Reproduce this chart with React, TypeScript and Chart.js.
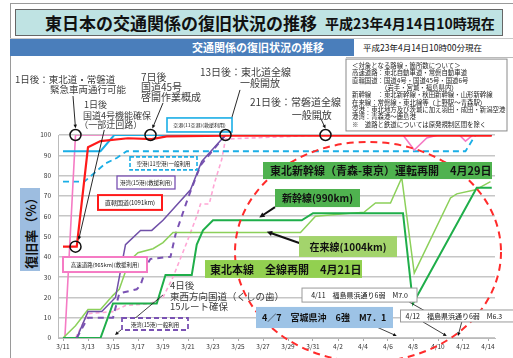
import React, { useEffect, useRef } from "react";
import { Chart, registerables } from "chart.js";

Chart.register(...registerables);

const FONT = "'Noto Sans CJK JP', 'Noto Sans', sans-serif";

// x = days since 3/11
const xTickDays = [0, 2, 4, 6, 8, 10, 12, 14, 16, 18, 20, 22, 24, 26, 28, 30, 32, 34];
const xTickLabels = ["3/11", "3/13", "3/15", "3/17", "3/19", "3/21", "3/23", "3/25", "3/27", "3/29", "3/31", "4/2", "4/4", "4/6", "4/8", "4/10", "4/12", "4/14"];
const yTickValues = [0, 10, 20, 30, 40, 50, 60, 70, 80, 90, 100];

type Pt = [number, number];

const expresswayEmergency: Pt[] = [[0.15, 0], [1, 100], [27.2, 100], [28.1, 92.6], [29.1, 98.5], [30, 100], [31.7, 100], [32.2, 97], [32.8, 100], [34.3, 100]];
const expresswayGeneral: Pt[] = [[1, 0], [2, 12], [4, 13], [5, 16], [7, 17], [8, 20], [8.8, 30], [9.9, 47], [10.7, 60], [11, 66], [11.7, 66], [12.1, 76], [12.7, 88], [13, 98], [21, 100], [34.3, 100]];
const nationalRoads: Pt[] = [[0, 45], [1.1, 45], [2, 94], [3, 97], [5.2, 98.4], [7.1, 98], [8.3, 99.3], [13, 99.7], [34.3, 99.7]];
const airportsRelief: Pt[] = [[0, 92], [3, 92], [4.1, 100], [34.3, 100]];
const airportsGeneral: Pt[] = [[0, 77], [1.7, 77], [3.4, 86], [4.3, 88.7], [5.1, 92], [32.2, 92], [33, 100], [34.3, 100]];
const portsRelief: Pt[] = [[1.1, 0], [2, 13], [3.1, 13], [4.2, 20], [5, 46], [6.2, 53], [7.1, 53], [8, 58], [10.2, 73], [11.1, 87], [13, 100], [34.3, 100]];
const portsGeneral: Pt[] = [[1.1, 0], [2, 10], [4, 10], [4.5, 22], [5.9, 24], [6.2, 26], [6.8, 37], [7, 39], [8.6, 40], [9, 51], [10, 69], [11, 85], [13, 100]];
const shinkansen: Pt[] = [[0, 0], [3, 0], [4, 17], [7.5, 17], [8.2, 31], [10.3, 31], [10.7, 46], [11.2, 53], [12, 58], [19.1, 58], [20, 61.5], [27.2, 61.5], [28, 17], [33.1, 74], [34.3, 74]];
const conventionalLines: Pt[] = [[0, 0], [1, 6], [2, 14], [3, 14], [4, 21], [4.5, 24], [5.3, 38], [6, 42], [7.2, 44], [8, 47], [8.8, 52], [19, 52], [20.2, 60], [24.1, 62], [25, 66.5], [26.2, 66.5], [27.1, 79], [28.1, 32], [31, 69], [31.5, 71], [33, 73], [34.2, 77]];

// annotations (data coordinates: day, percent)
const milestoneCircles: Pt[] = [[1, 100], [1, 45], [7, 100], [13, 100], [21, 100]];

const noteTexts: { d: number; v: number; t: string; s: number }[] = [
  { d: -3.84, v: 127.6, t: "1日後：東北道・常磐道", s: 9.5 },
  { d: -1.04, v: 122.7, t: "緊急車両通行可能", s: 9.5 },
  { d: 1.68, v: 114.8, t: "1日後", s: 9 },
  { d: 1.6, v: 109.6, t: "国道4号機能確保", s: 9 },
  { d: 1.3, v: 105.0, t: "（一部迂回路）", s: 9 },
  { d: 6.24, v: 128.6, t: "7日後", s: 10 },
  { d: 6.24, v: 123.6, t: "国道45号", s: 10 },
  { d: 6.24, v: 118.7, t: "啓開作業概成", s: 10 },
  { d: 10.96, v: 131, t: "13日後：東北道全線", s: 10 },
  { d: 14.16, v: 125.6, t: "一般開放", s: 10 },
  { d: 14.96, v: 116.3, t: "21日後：常磐道全線", s: 10 },
  { d: 18.3, v: 109.9, t: "一般開放", s: 10 },
  { d: 8.56, v: 26.1, t: "4日後", s: 9.5 },
  { d: 8.56, v: 20.7, t: "東西方向国道（くしの歯）", s: 9.5 },
  { d: 8.56, v: 15.8, t: "15ルート確保", s: 9.5 },
];

const arrows: { a: Pt; b: Pt; w: number; h: number }[] = [
  { a: [0.8, 119.2], b: [1, 103.3], w: 0.9, h: 4 },
  { a: [3.3, 102.5], b: [1.25, 48.3], w: 0.9, h: 4 },
  { a: [8, 115.8], b: [7.15, 103.2], w: 0.9, h: 4 },
  { a: [14.16, 122.2], b: [13.25, 103.2], w: 0.9, h: 4 },
  { a: [20.6, 108.4], b: [21, 103.2], w: 0.9, h: 4 },
  { a: [8, 21.2], b: [4.16, 1.5], w: 0.8, h: 4 },
  { a: [16.96, 64.5], b: [15.7, 59.3], w: 2, h: 6 },
  { a: [18.9, 46.8], b: [16.3, 52.4], w: 2, h: 6 },
  { a: [25.1, 5.4], b: [26.7, 1], w: 0.8, h: 4 },
  { a: [28.8, 7.9], b: [30.7, 1], w: 0.8, h: 4 },
  { a: [31.9, 7.9], b: [31.6, 1], w: 0.8, h: 4 },
  { a: [27.7, 17.7], b: [29.2, 12.5], w: 0.8, h: 0 },
];

type Box = { d1: number; v1: number; d2: number; v2: number; t: string; s: number; fill: string; stroke?: string; lw?: number; dash?: number[]; bold?: boolean; pad?: number };
const labelBoxes: Box[] = [
  { d1: 8.32, v1: 108.4, d2: 13.52, v2: 101.5, t: "空港(11空港)(救援利用)", s: 5, fill: "#fff", stroke: "#1aaee6", lw: 1.6 },
  { d1: 5.36, v1: 89.2, d2: 10.72, v2: 82.8, t: "空港(11空港)一般利用", s: 5.5, fill: "#fff", stroke: "#1aaee6", lw: 1.6, dash: [4, 2] },
  { d1: 4.32, v1: 79.8, d2: 8.96, v2: 73.4, t: "港湾(15港)(救援利用)", s: 5.5, fill: "#fff", stroke: "#7a52b3", lw: 1.3 },
  { d1: 2.8, v1: 70.4, d2: 7.92, v2: 63.1, t: "直轄国道(1091km)", s: 6, fill: "#fff", stroke: "#ff1a1a", lw: 2 },
  { d1: 0, v1: 39.9, d2: 6.72, v2: 32.5, t: "高速道路(965km)(救援利用)", s: 5.5, fill: "#fff", stroke: "#f57bc4", lw: 2 },
  { d1: 4.72, v1: 9.85, d2: 10, v2: 3.94, t: "港湾(15港)一般利用", s: 5.5, fill: "#fff", stroke: "#7a52b3", lw: 1.8, dash: [5, 3] },
  { d1: 16, v1: 86.7, d2: 34.32, v2: 78.3, t: "東北新幹線（青森-東京）運転再開　4月29日", s: 11, fill: "#4fb24f", bold: true, pad: 7 },
  { d1: 16.96, v1: 73.4, d2: 23.76, v2: 64.5, t: "新幹線(990km)", s: 10, fill: "#4fb24f", bold: true },
  { d1: 18.88, v1: 50.2, d2: 26.72, v2: 39.9, t: "在来線(1004km)", s: 10, fill: "#a3d46c", bold: true },
  { d1: 11.36, v1: 38.4, d2: 23.92, v2: 29.6, t: "東北本線　全線再開　4月21日", s: 11, fill: "#92d050", bold: true, pad: 5 },
  { d1: 19.12, v1: 24.6, d2: 28.32, v2: 17.7, t: "4/11　福島県浜通り6弱　M7.0", s: 7, fill: "#fff", stroke: "#999", lw: 1 },
  { d1: 15.44, v1: 15.3, d2: 26.4, v2: 4.9, t: "4／7　宮城県沖　6強　M7．1", s: 9, fill: "#9dc3e6", bold: true, pad: 6 },
  { d1: 27.0, v1: 13.8, d2: 36.2, v2: 7.9, t: "4/12　福島県浜通り6弱　M6.3", s: 7, fill: "#fff", stroke: "#999", lw: 1, pad: 5 },
];

const noteBox = { d1: 22.64, v1: 137.4, d2: 35.52, v2: 102 };
const noteLines: { t: string; indent: number }[] = [
  { t: "＜対象となる路線・箇所数について＞", indent: 0 },
  { t: "高速道路：東北自動車道・常磐自動車道", indent: 0 },
  { t: "直轄国道：国道4号・国道45号・国道6号", indent: 0 },
  { t: "（岩手・宮城・福島県内）", indent: 29 },
  { t: "新幹線　：東北新幹線・秋田新幹線・山形新幹線", indent: 0 },
  { t: "在来線：常磐線・東北線等（上野駅～青森駅）", indent: 0 },
  { t: "空港：東北地方及び茨城に加え羽田・成田・新潟空港", indent: 0 },
  { t: "港湾：青森港～鹿島港", indent: 0 },
  { t: "※　道路と鉄道については原発規制区間を除く", indent: 0 },
];

// red dashed focus ellipse: centre day, centre %, radius in days, radius in %
const focusEllipse = [24.4, 42.4, 10.64, 54.2];

function drawArrow(ctx: CanvasRenderingContext2D, x1: number, y1: number, x2: number, y2: number, w: number, h: number) {
  const ang = Math.atan2(y2 - y1, x2 - x1);
  ctx.strokeStyle = "#111";
  ctx.fillStyle = "#111";
  ctx.lineWidth = w;
  ctx.beginPath();
  ctx.moveTo(x1, y1);
  ctx.lineTo(x2 - Math.cos(ang) * h * 0.7, y2 - Math.sin(ang) * h * 0.7);
  ctx.stroke();
  if (h > 0) {
    ctx.beginPath();
    ctx.moveTo(x2, y2);
    ctx.lineTo(x2 - h * Math.cos(ang - 0.45), y2 - h * Math.sin(ang - 0.45));
    ctx.lineTo(x2 - h * Math.cos(ang + 0.45), y2 - h * Math.sin(ang + 0.45));
    ctx.closePath();
    ctx.fill();
  }
}

const notesPlugin = {
  id: "notes",
  afterDatasetsDraw(chart: any) {
    const ctx: CanvasRenderingContext2D = chart.ctx;
    const xs = chart.scales.x;
    const ys = chart.scales.y;
    const X = (d: number) => xs.getPixelForValue(d);
    const Y = (v: number) => ys.getPixelForValue(v);
    ctx.save();

    const [cd, cv, rd, rv] = focusEllipse;
    ctx.beginPath();
    ctx.setLineDash([7, 5]);
    ctx.strokeStyle = "#ff2b2b";
    ctx.lineWidth = 2;
    ctx.ellipse(X(cd), Y(cv), X(cd + rd) - X(cd), Y(cv) - Y(cv + rv), 0, 0, Math.PI * 2);
    ctx.stroke();
    ctx.setLineDash([]);

    arrows.forEach((a) => drawArrow(ctx, X(a.a[0]), Y(a.a[1]), X(a.b[0]), Y(a.b[1]), a.w, a.h));

    labelBoxes.forEach((b) => {
      const x1 = X(b.d1), y1 = Y(b.v1), x2 = X(b.d2), y2 = Y(b.v2);
      ctx.fillStyle = b.fill;
      ctx.fillRect(x1, y1, x2 - x1, y2 - y1);
      if (b.stroke) {
        ctx.setLineDash(b.dash || []);
        ctx.strokeStyle = b.stroke;
        ctx.lineWidth = b.lw || 1;
        ctx.strokeRect(x1, y1, x2 - x1, y2 - y1);
        ctx.setLineDash([]);
      }
      ctx.font = `${b.bold ? "bold " : ""}${b.s}px ${FONT}`;
      ctx.fillStyle = "#111";
      ctx.textBaseline = "middle";
      if (b.pad !== undefined) {
        ctx.textAlign = "left";
        ctx.fillText(b.t, x1 + b.pad, (y1 + y2) / 2 + 0.5);
      } else {
        ctx.textAlign = "center";
        ctx.fillText(b.t, (x1 + x2) / 2, (y1 + y2) / 2 + 0.5);
      }
    });

    {
      const x1 = X(noteBox.d1), y1 = Y(noteBox.v1), x2 = X(noteBox.d2), y2 = Y(noteBox.v2);
      ctx.fillStyle = "#fff";
      ctx.fillRect(x1, y1, x2 - x1, y2 - y1);
      ctx.strokeStyle = "#8a8a8a";
      ctx.lineWidth = 1;
      ctx.strokeRect(x1, y1, x2 - x1, y2 - y1);
      ctx.font = `6.4px ${FONT}`;
      ctx.fillStyle = "#222";
      ctx.textAlign = "left";
      ctx.textBaseline = "middle";
      noteLines.forEach((l, i) => ctx.fillText(l.t, x1 + 6 + l.indent, y1 + 6.5 + i * 7.35));
    }

    ctx.strokeStyle = "#111";
    ctx.lineWidth = 1.5;
    milestoneCircles.forEach(([d, v]) => {
      ctx.beginPath();
      ctx.arc(X(d), Y(v), 5.5, 0, Math.PI * 2);
      ctx.stroke();
    });

    ctx.fillStyle = "#3c3c3c";
    ctx.textAlign = "left";
    ctx.textBaseline = "middle";
    noteTexts.forEach((n) => {
      ctx.font = `${n.s}px ${FONT}`;
      ctx.fillText(n.t, X(n.d), Y(n.v));
    });

    ctx.restore();
  },
};

const toXY = (pts: Pt[]) => pts.map(([x, y]) => ({ x, y }));

export default function App() {
  const ref = useRef<HTMLCanvasElement | null>(null);

  useEffect(() => {
    if (!ref.current) return;
    const line = (data: Pt[], color: string, width: number, dash: number[] = []) => ({
      data: toXY(data),
      borderColor: color,
      backgroundColor: color,
      borderWidth: width,
      borderDash: dash,
      pointRadius: 0,
      tension: 0,
      fill: false,
    });
    const chart = new Chart(ref.current, {
      type: "line",
      data: {
        datasets: [
          line(nationalRoads, "#ff1a1a", 2.2),
          line(portsRelief, "#7050a8", 1.5),
          line(shinkansen, "#1fae4a", 2),
          line(conventionalLines, "#8cd05a", 1.5),
          line(airportsRelief, "#1aaee6", 2),
          line(expresswayEmergency, "#f57bc4", 1.6),
          line(portsGeneral, "#7a52b3", 2, [6, 5]),
          line(airportsGeneral, "#1aaee6", 1.8, [6, 4]),
          line(expresswayGeneral, "#ffa6d5", 1.6, [4, 3]),
        ] as any,
      },
      options: {
        animation: false,
        responsive: false,
        events: [],
        layout: { padding: { left: 28, top: 135, right: 18, bottom: 0 } },
        plugins: { legend: { display: false }, tooltip: { enabled: false }, title: { display: false } },
        scales: {
          x: {
            type: "linear",
            min: -0.4,
            max: 34.56,
            afterBuildTicks: (s: any) => {
              s.ticks = xTickDays.map((value) => ({ value }));
            },
            afterFit: (s: any) => {
              s.height = 20;
            },
            ticks: {
              autoSkip: false,
              maxRotation: 0,
              padding: 2,
              color: "#333",
              font: { size: 6.5, family: FONT },
              callback: (_v: any, i: number) => xTickLabels[i],
            },
            grid: { drawOnChartArea: false, tickLength: 3, color: "#aaa" },
            border: { color: "#bbb" },
          },
          y: {
            min: 0,
            max: 100,
            afterBuildTicks: (s: any) => {
              s.ticks = yTickValues.map((value) => ({ value }));
            },
            afterFit: (s: any) => {
              s.width = 30;
            },
            ticks: { padding: 7, color: "#333", font: { size: 6.5, family: FONT } },
            grid: { color: "#c6c6c6", lineWidth: 1.5, drawTicks: false, tickLength: 0 },
            border: { color: "#bbb" },
          },
        },
      } as any,
      plugins: [notesPlugin as any],
    });
    return () => chart.destroy();
  }, []);

  return (
    <div style={{ position: "fixed", left: 0, top: 0, width: 513, height: 358, background: "#fff", overflow: "hidden", fontFamily: FONT }}>
      <div style={{ position: "absolute", left: 10, top: 3, width: 503, height: 355, borderLeft: "1px solid #9a9a9a", borderTop: "1px solid #9a9a9a" }} />
      <div style={{ position: "absolute", left: 15, top: 9, width: 488, height: 27, background: "#bfe3e3", border: "1px solid #666", boxSizing: "border-box" }} />
      <div style={{ position: "absolute", left: 45, top: 9, height: 27, lineHeight: "27px", fontWeight: 700, fontSize: 17, color: "#111", whiteSpace: "nowrap" }}>東日本の交通関係の復旧状況の推移</div>
      <div style={{ position: "absolute", left: 325, top: 9, height: 27, lineHeight: "28px", fontWeight: 700, fontSize: 14, color: "#111", whiteSpace: "nowrap" }}>平成23年4月14日10時現在</div>
      <div style={{ position: "absolute", left: 10, top: 38, width: 503, height: 1, background: "#c8c8c8" }} />
      <div style={{ position: "absolute", left: 10, top: 39, width: 344, height: 17, background: "#4a7ebb" }} />
      <div style={{ position: "absolute", left: 192, top: 39, height: 17, lineHeight: "17px", fontWeight: 700, fontSize: 11, color: "#fff", whiteSpace: "nowrap" }}>交通関係の復旧状況の推移</div>
      <div style={{ position: "absolute", left: 363, top: 39, height: 17, lineHeight: "17px", fontSize: 8.5, color: "#111", whiteSpace: "nowrap" }}>平成23年4月14日10時00分現在</div>
      <div style={{ position: "absolute", left: 346, top: 57, width: 167, height: 1, background: "#bbb" }} />
      <div style={{ position: "absolute", left: 20, top: 188, width: 20, height: 83, background: "#9dbde0" }}>
        <div style={{ position: "absolute", left: 10, top: 41.5, transform: "translate(-50%, -50%) rotate(-90deg)", whiteSpace: "nowrap", fontWeight: 700, fontSize: 13, color: "#111" }}>復旧率（%）</div>
      </div>
      <canvas ref={ref} width={513} height={358} style={{ position: "absolute", left: 0, top: 0 }} />
    </div>
  );
}
